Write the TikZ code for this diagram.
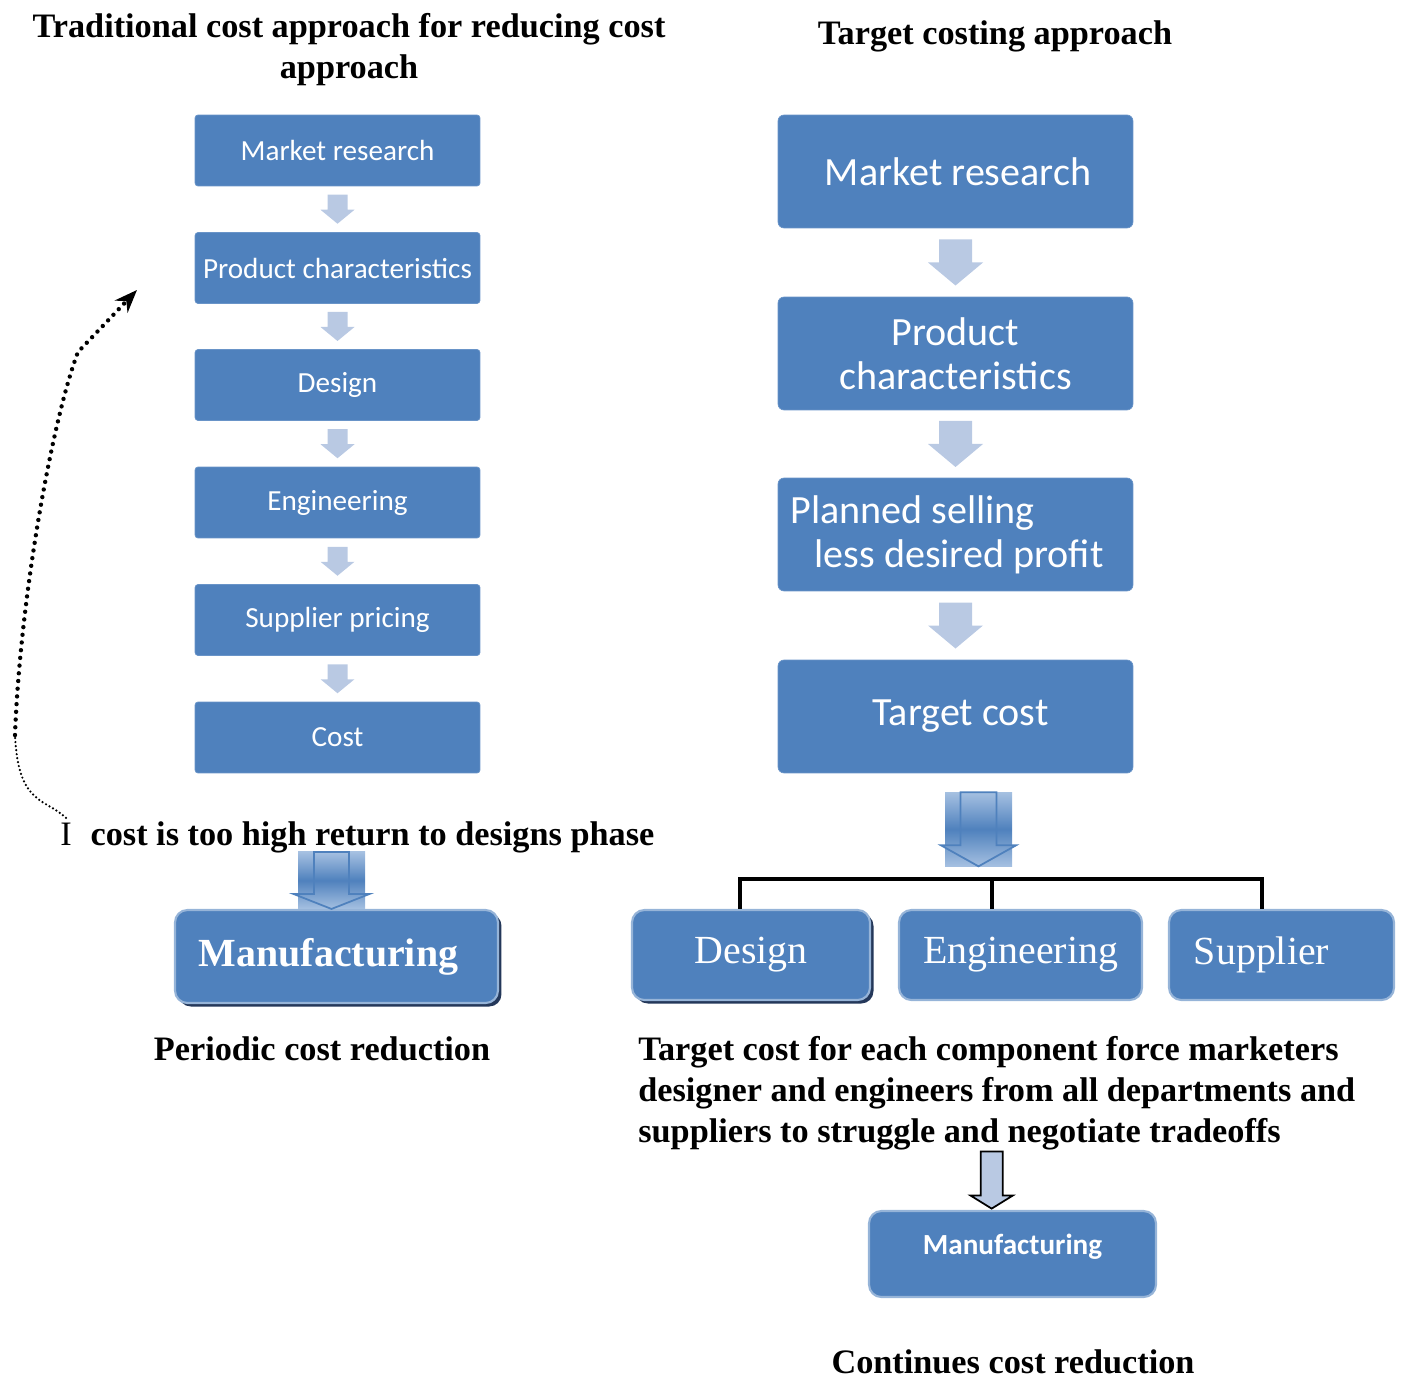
\documentclass[tikz,border=0pt]{standalone}
\usepackage{fontspec}
\setmainfont{Liberation Serif}
\newfontfamily\calfont{Carlito}
\usetikzlibrary{calc,shadows,arrows.meta}

\definecolor{boxblue}{RGB}{79,129,189}
\definecolor{boxedge}{RGB}{105,148,200}
\definecolor{subedge}{RGB}{150,180,216}
\definecolor{arrowfill}{RGB}{185,201,227}
\definecolor{fadeblue}{RGB}{165,192,225}
\definecolor{shadowblue}{RGB}{36,56,90}

\newcommand{\hdfont}{\bfseries\fontsize{19.5}{23.3}\selectfont}
\newcommand{\smfont}{\calfont\fontsize{16.6}{19}\selectfont}
\newcommand{\bgfont}{\calfont\fontsize{22.8}{25}\selectfont}
\newcommand{\tmfont}{\fontsize{22.7}{26}\selectfont}

\newcommand{\lbn}{\node[fill=boxblue, draw=boxedge, rounded corners=1.7pt, minimum width=5.7cm, minimum height=1.42cm, text=white, font=\smfont]}
\newcommand{\rbn}{\node[fill=boxblue, draw=boxedge, rounded corners=3.4pt, minimum width=7.1cm, minimum height=2.26cm, text=white, font=\bgfont]}
\newcommand{\sbn}{\node[fill=boxblue, draw=subedge, line width=1.2pt, rounded corners=7pt, minimum height=1.8cm, text=white, font=\tmfont]}

% block arrow in the gap: [x offset], style, from, to, shaft half, head half, length, head length
\newcommand{\gaparr}[8][0]{\draw[#2] ($(#3.south)!0.5!(#4.north)+(#1,0)$) ++({-#5},{-#7/2}) -- ++({2*#5},0) -- ++(0,{#7-#8}) -- ++({#6-#5},0) -- ++({-#6},#8) -- ++({-#6},{-#8}) -- ++({#6-#5},0) -- cycle;}
% shaded arrow: centre, box half, half length, shaft half, head half, head length
\newcommand{\fadearr}[6]{\begin{scope}[shift={(#1)}]
  \fill[fadefill] (-#2,-#3) rectangle (#2,#3);
  \draw[fadeline] (-#4,-#3) -- (#4,-#3) -- (#4,{#3-#6}) -- (#5,{#3-#6}) -- (0,#3) -- (-#5,{#3-#6}) -- (-#4,{#3-#6}) -- cycle;
\end{scope}}

\begin{document}
\begin{tikzpicture}[x=0.02cm, y=-0.02cm,
    hd/.style={font=\hdfont},
    lilarr/.style={fill=arrowfill, draw=none},
    blkarr/.style={fill=arrowfill, draw=black, line width=1pt},
    fadefill/.style={top color=fadeblue, bottom color=fadeblue, middle color=boxblue},
    fadeline/.style={draw=boxblue, line width=1pt},
    bracket/.style={line width=2.8pt},
    shade/.style={drop shadow={shadow xshift=2pt, shadow yshift=-2pt, fill=shadowblue, opacity=1}},
    dotbig/.style={line width=2.5pt, dash pattern=on 0pt off 4.4pt, line cap=round},
    dotsmall/.style={line width=1.4pt, dash pattern=on 0pt off 2.3pt, line cap=round}]
\useasboundingbox (0,0) rectangle (1405,1381);

% titles
\node[hd, align=center] (ttl1) at (349,50) {Traditional cost approach for reducing cost\\approach};
\node[hd, anchor=base] (ttl2) at (995,45) {Target costing approach};

% traditional approach
\lbn (mr1) at (337.5,150.5) {Market research};
\lbn (pc1) at (337.5,268) {Product characteristics};
\lbn (ds1) at (337.5,385) {Design};
\lbn (en1) at (337.5,502.5) {Engineering};
\lbn (sp1) at (337.5,620) {Supplier pricing};
\lbn (co1) at (337.5,737.5) {Cost};

\gaparr{lilarr}{mr1}{pc1}{10}{17}{29}{14}
\gaparr{lilarr}{pc1}{ds1}{10}{17}{29}{14}
\gaparr{lilarr}{ds1}{en1}{10}{17}{29}{14}
\gaparr{lilarr}{en1}{sp1}{10}{17}{29}{14}
\gaparr{lilarr}{sp1}{co1}{10}{17}{29}{14}

\node[hd, anchor=base west, inner sep=0] (toohigh) at (60,845) {\mdseries I\hspace{0.55em}\bfseries cost is too high return to designs phase};
\coordinate (rettip) at (137,290);
\coordinate (bend) at (15,735);
\draw[dotsmall] ($(toohigh.north west)+(6,-3)$) .. controls (45,798) and (18,805) .. (bend);
\draw[dotbig, -{Stealth[length=13pt, width=10pt]}] (bend) .. controls (20,600) and (52,420) .. (78,352) -- (rettip);

\node[fill=boxblue, draw=subedge, line width=1.2pt, rounded corners=7pt, minimum width=6.46cm, minimum height=1.86cm, text=white, font=\tmfont\bfseries, shade] (mf1) at (336.5,956.5) {Manufacturing\hspace*{0.32cm}};
\coordinate (ga1) at ($(mf1.north)+(-5,-28.5)$);
\fadearr{ga1}{33.5}{28.5}{17.5}{38}{15}

\node[hd] (per) at (322,1049) {Periodic cost reduction};

% target costing approach
\rbn (mr2) at (955.5,171.5) {\hspace{0.1cm}Market research};
\rbn[align=center] (pc2) at (955.5,353.5) {Product\\characteristics};
\rbn[align=left] (ps2) at (955.5,534.5) {Planned selling\\\hspace*{0.6em}less desired profit\hspace*{0.34cm}};
\rbn (tc2) at (955.5,716.5) {\hspace{0.2cm}Target cost};

\gaparr{lilarr}{mr2}{pc2}{16.5}{27.5}{46}{23}
\gaparr{lilarr}{pc2}{ps2}{16.5}{27.5}{46}{23}
\gaparr{lilarr}{ps2}{tc2}{16.5}{27.5}{46}{23}

\coordinate (ga2) at ($(tc2.south)+(23,56)$);
\fadearr{ga2}{33.5}{37}{18}{37.5}{21}

\sbn[minimum width=4.76cm, shade] (ds3) at (751,955) {Design};
\sbn[minimum width=4.86cm] (en3) at (1020.5,955) {Engineering};
\sbn[minimum width=4.5cm] (sp3) at (1281.5,955) {Supplier\hspace*{0.8cm}};

\draw[bracket] ($(ds3.north)+(-11,0)$) |- ($(sp3.north)+(-19.5,-30)$) -- ($(sp3.north)+(-19.5,0)$);
\draw[bracket] ($(en3.north)+(-28.5,0)$) -- ++(0,-30);

\node[hd, align=left, anchor=north west, inner sep=0] (para) at (638,1036) {Target cost for each component force marketers\\designer and engineers from all departments and\\suppliers to struggle and negotiate tradeoffs};

\node[fill=boxblue, draw=subedge, line width=1.2pt, rounded corners=7pt, minimum width=5.74cm, minimum height=1.72cm, text=white, font=\calfont\bfseries\fontsize{16.6}{19}\selectfont, text height=0.7em, text depth=0.6em] (mf2) at (1012.5,1254) {Manufacturing};
\gaparr[-13]{blkarr}{para}{mf2}{11}{21}{57}{13}

\node[hd] (cont) at (1013,1362) {Continues cost reduction};
\end{tikzpicture}
\end{document}
